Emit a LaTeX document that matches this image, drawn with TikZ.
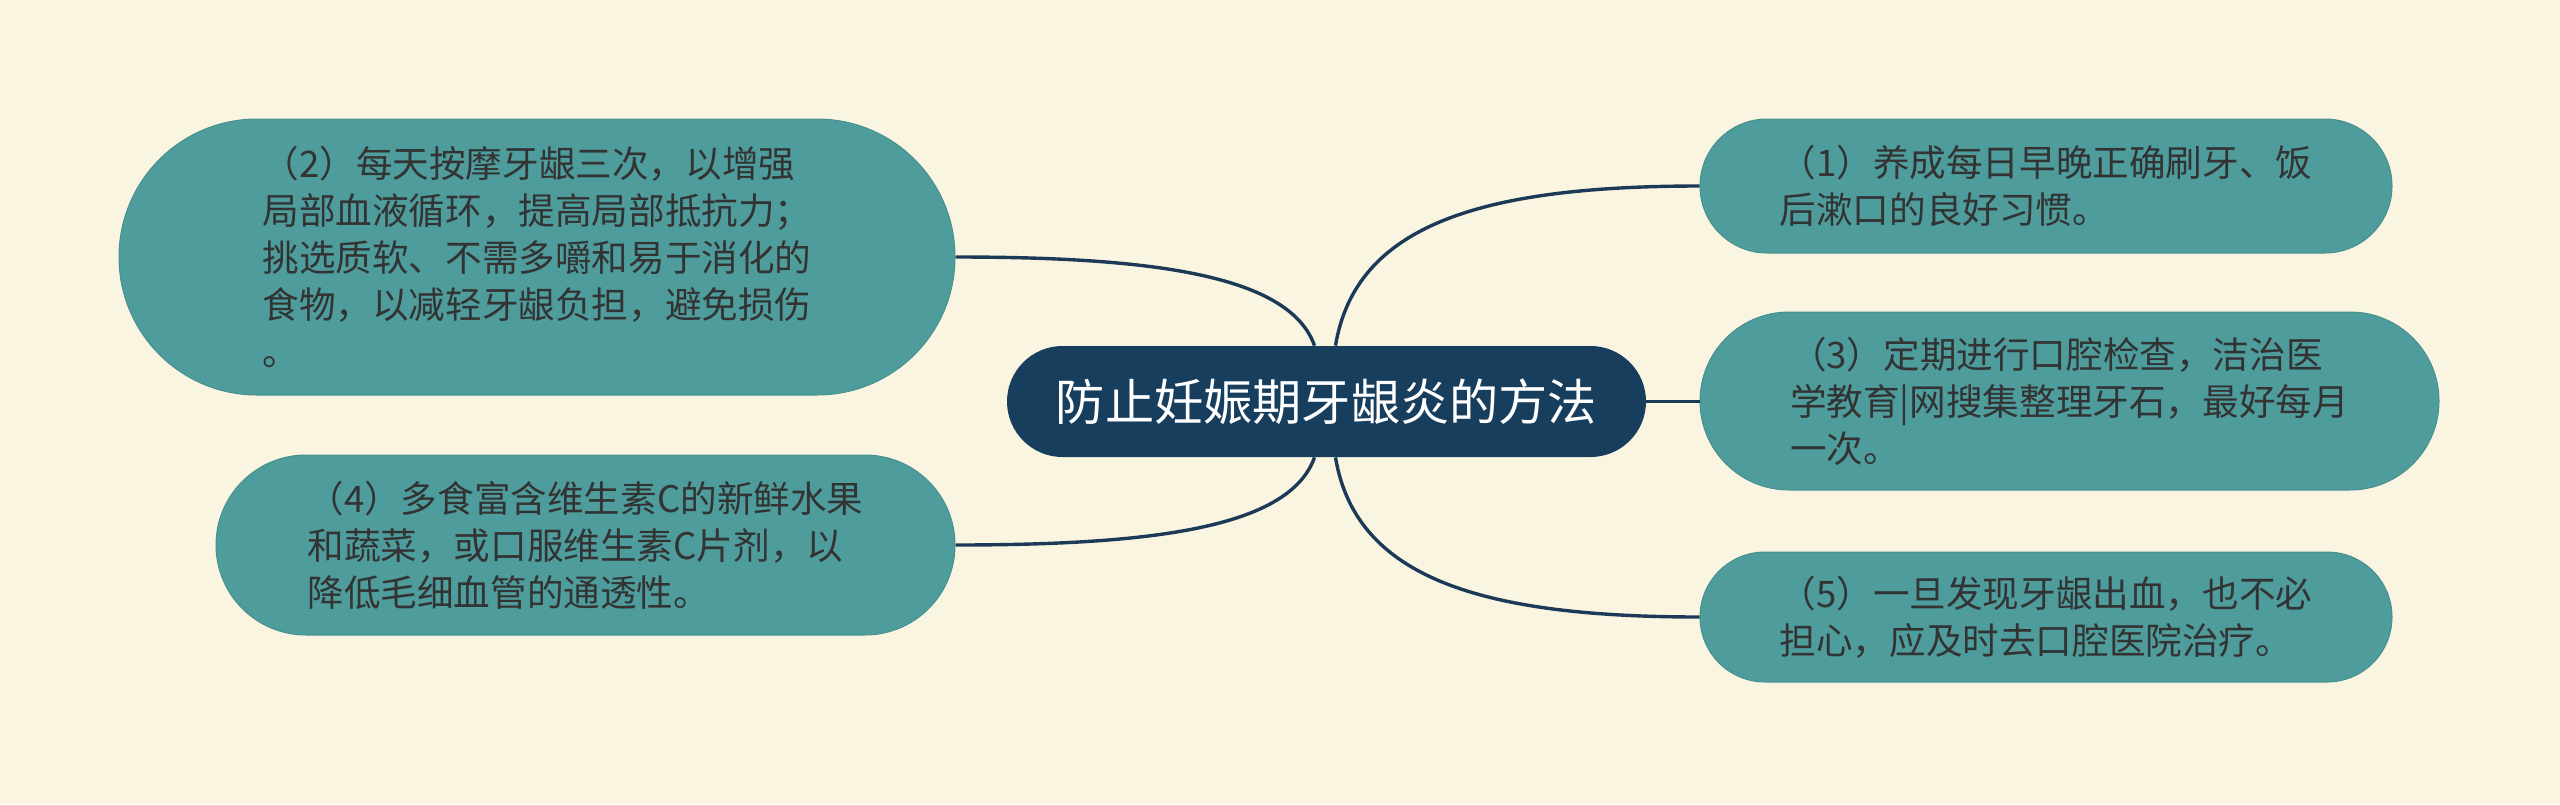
\documentclass[tikz,border=0pt]{standalone}
\usepackage{fontspec}
\newfontfamily\cjk{Noto Sans CJK SC}

\definecolor{paper}{HTML}{FAF5E0}
\definecolor{leafteal}{HTML}{4E9C9C}
\definecolor{hubblue}{HTML}{183E5E}
\definecolor{wireblue}{HTML}{1B3A58}
\definecolor{ink}{HTML}{333333}

\tikzset{
  leaf/.style={fill=leafteal,draw=leafteal!92!black,line width=0.5pt,text=ink,
    align=left,inner sep=0pt,font=\cjk\fontsize{18.3}{23.5}\selectfont},
  hub/.style={fill=hubblue,text=white,inner sep=0pt,rounded corners=27.75pt,
    minimum width=319.5pt,minimum height=55.5pt,
    font=\cjk\fontsize{24.6}{30}\selectfont},
  wire/.style={draw=wireblue,line width=1.7pt}
}

\begin{document}
\begin{tikzpicture}[x=0.5pt,y=-0.5pt]
\fill[paper] (0,0) rectangle (2560,804);
\useasboundingbox (0,0) rectangle (2560,804);

\node[hub] (hub) at (1326.5,401.5) {防止妊娠期牙龈炎的方法};

\node[leaf,minimum width=418pt,minimum height=138pt,rounded corners=69pt]
  (tip2) at (537,257)
  {（2）每天按摩牙龈三次，以增强\\局部血液循环，提高局部抵抗力；\\挑选质软、不需多嚼和易于消化的\\食物，以减轻牙龈负担，避免损伤\\。};
\node[leaf,minimum width=369.5pt,minimum height=90pt,rounded corners=45pt]
  (tip4) at (585.5,545)
  {（4）多食富含维生素C的新鲜水果\\和蔬菜，或口服维生素C片剂，以\\降低毛细血管的通透性。};
\node[leaf,minimum width=346pt,minimum height=67pt,rounded corners=33.5pt]
  (tip1) at (2046,186)
  {（1）养成每日早晚正确刷牙、饭\\后漱口的良好习惯。};
\node[leaf,minimum width=369.5pt,minimum height=89pt,rounded corners=44.5pt]
  (tip3) at (2069.5,401)
  {（3）定期进行口腔检查，洁治医\\学教育|网搜集整理牙石，最好每月\\一次。};
\node[leaf,minimum width=346pt,minimum height=65pt,rounded corners=32.5pt]
  (tip5) at (2046,617)
  {（5）一旦发现牙龈出血，也不必\\担心，应及时去口腔医院治疗。};

\draw[wire] ([xshift=-6pt]hub.north) .. controls +(-25,-70) and +(200,0) .. (tip2.east);
\draw[wire] ([xshift=-6pt]hub.south) .. controls +(-25,70) and +(200,0) .. (tip4.east);
\draw[wire] ([xshift=4.5pt]hub.north) .. controls +(20,-120) and +(-220,0) .. (tip1.west);
\draw[wire] (hub.east) -- (hub.east -| tip3.west);
\draw[wire] ([xshift=4.5pt]hub.south) .. controls +(20,120) and +(-220,0) .. (tip5.west);

\end{tikzpicture}
\end{document}
